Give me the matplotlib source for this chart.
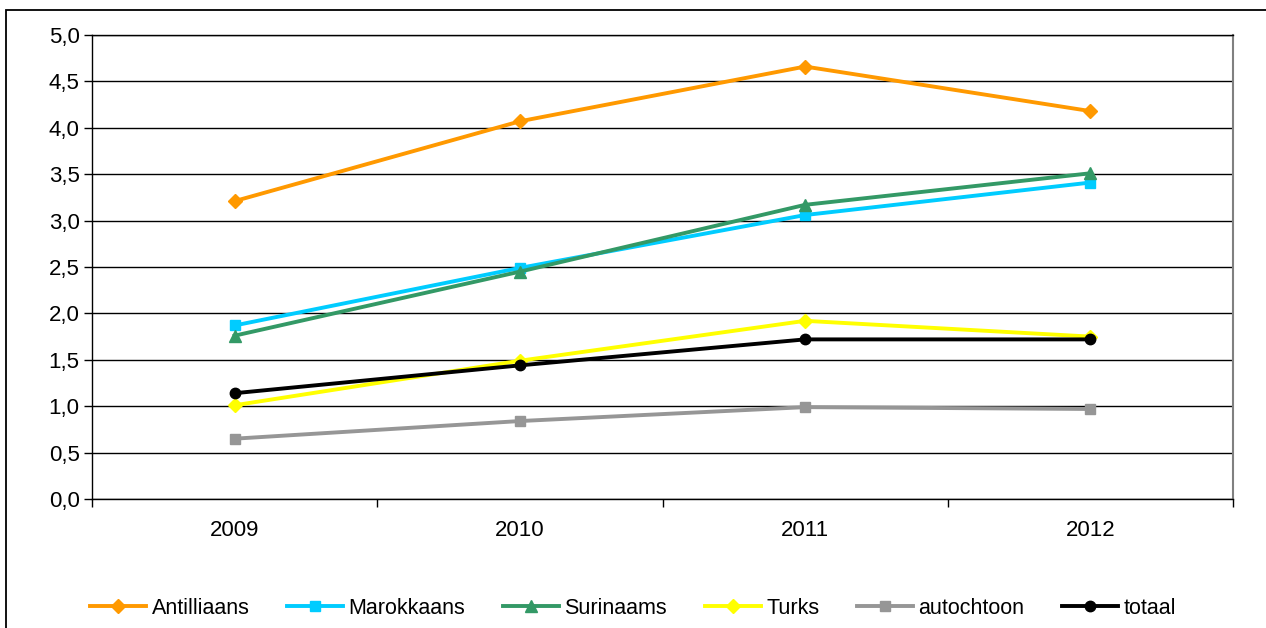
import matplotlib
matplotlib.use("Agg")
import matplotlib.pyplot as plt
from matplotlib.patches import Rectangle
from matplotlib.ticker import FixedLocator, FuncFormatter

years = ["2009", "2010", "2011", "2012"]
antilliaans = [3.21, 4.07, 4.66, 4.18]
marokkaans = [1.87, 2.49, 3.06, 3.41]
surinaams = [1.76, 2.45, 3.17, 3.51]
turks = [1.01, 1.49, 1.92, 1.75]
autochtoon = [0.65, 0.84, 0.99, 0.97]
totaal = [1.14, 1.44, 1.72, 1.72]
series_names = ["Antilliaans", "Marokkaans", "Surinaams", "Turks", "autochtoon", "totaal"]
y_ticks = [0.0, 0.5, 1.0, 1.5, 2.0, 2.5, 3.0, 3.5, 4.0, 4.5, 5.0]

plt.rcParams['font.family'] = ['Liberation Sans', 'DejaVu Sans']

fig = plt.figure(figsize=(12.66, 6.28), dpi=100)
fig.patches.append(Rectangle((6 / 1266, -0.1), 1.2, 1 - 10 / 628 + 0.1,
                             transform=fig.transFigure, fill=False,
                             edgecolor='black', linewidth=1.3, zorder=0))

ax = fig.add_axes([92 / 1266, 1 - 499 / 628, (1233 - 92) / 1266, (499 - 35) / 628])

styles = [
    ("#FF9900", "D", 7),
    ("#00CCFF", "s", 7),
    ("#339966", "^", 8),
    ("#FFFF00", "D", 7),
    ("#969696", "s", 7),
    ("#000000", "o", 7.5),
]
data = [antilliaans, marokkaans, surinaams, turks, autochtoon, totaal]
x = list(range(len(years)))
for name, vals, (c, m, ms) in zip(series_names, data, styles):
    ax.plot(x, vals, color=c, marker=m, markersize=ms, linewidth=2.8,
            markeredgecolor=c, label=name, zorder=3)

ax.set_xlim(-0.5, len(years) - 0.5)
ax.set_ylim(0, 5)
ax.yaxis.set_major_locator(FixedLocator(y_ticks))
ax.yaxis.set_major_formatter(FuncFormatter(lambda v, p: f"{v:.1f}".replace(".", ",")))
ax.grid(axis='y', color='black', linewidth=1.0, zorder=1)
ax.set_axisbelow(True)

ax.set_xticks(x)
ax.set_xticklabels(years)
ax.set_xticks([i - 0.5 for i in range(len(years) + 1)], minor=True)
ax.tick_params(axis='x', which='major', length=0, pad=15, labelsize=16)
ax.tick_params(axis='x', which='minor', length=6, width=1.0, color='black')
ax.tick_params(axis='y', length=6, width=1.0, labelsize=16, pad=3)

for s in ['left', 'bottom', 'top']:
    ax.spines[s].set_color('black')
    ax.spines[s].set_linewidth(1.0)
ax.spines['right'].set_color('#808080')
ax.spines['right'].set_linewidth(1.5)

fig.legend(loc='center', bbox_to_anchor=(0.5, 1 - 608 / 628), ncol=6,
           frameon=False, fontsize=15.5, handlelength=2.6, handletextpad=0.25,
           columnspacing=1.75, markerscale=1.0)

fig.savefig("out.png", dpi=100)
